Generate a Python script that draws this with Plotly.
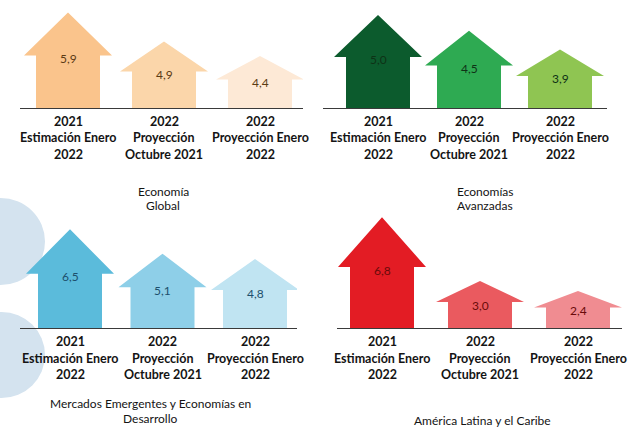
import plotly.graph_objects as go

# ---------------- data ----------------
cat_lines = [
    ["2021", "Estimación Enero", "2022"],
    ["2022", "Proyección", "Octubre 2021"],
    ["2022", "Proyección Enero", "2022"],
]
global_vals = [5.9, 4.9, 4.4]
avanzadas_vals = [5.0, 4.5, 3.9]
emergentes_vals = [6.5, 5.1, 4.8]
latam_vals = [6.8, 3.0, 2.4]

global_title = ["Economía", "Global"]
avanzadas_title = ["Economías", "Avanzadas"]
emergentes_title = ["Mercados Emergentes y Economías en", "Desarrollo"]
latam_title = ["América Latina y el Caribe"]

# ---------------- layout / style ----------------
W, H = 641, 433
FONT = "Lato"

panels = [
    dict(vals=global_vals, title=global_title,
         L=20, R=303, c0=68, c2=260, yb=108, v0=2.61, ppu=29.0,
         colors=["#fac48c", "#fbd6aa", "#fde9d6"], tcolor="#5b3b14",
         tx=163, ty=[192, 205]),
    dict(vals=avanzadas_vals, title=avanzadas_title,
         L=323, R=607, c0=378, c2=560, yb=108, v0=2.04, ppu=31.4,
         colors=["#0c5b2d", "#2eaa52", "#8fc552"], tcolor="#0e3216",
         tx=485, ty=[192, 205]),
    dict(vals=emergentes_vals, title=emergentes_title,
         L=20, R=297, c0=70, c2=255, yb=328, v0=0.83, ppu=17.4,
         colors=["#5bbbdb", "#8ecfe8", "#c0e4f2"], tcolor="#1d4f6d",
         tx=150, ty=[403, 418]),
    dict(vals=latam_vals, title=latam_title,
         L=337, R=622, c0=382, c2=578, yb=328, v0=0.19, ppu=16.77,
         colors=["#e31c24", "#ea5a5f", "#f08c91"], tcolor="#6a0a0a",
         tx=482, ty=[420]),
]

HEAD_HALF_PX = 44
BODY_HALF_PX = 32
HEAD_FRAC = 0.45
DOMAIN_PX = 116

fig = go.Figure()
annotations = []
layout_axes = {}

for k, p in enumerate(panels, start=1):
    s = (p["c2"] - p["c0"]) / 2.0  # px per category unit
    xa = -(p["c0"] - p["L"]) / s
    xb = 2 + (p["R"] - p["c2"]) / s
    top_px = max(p["yb"] - DOMAIN_PX, 0)
    dom_px = p["yb"] - top_px
    ya = p["v0"]
    yb_val = p["v0"] + dom_px / p["ppu"]
    xn = "x" if k == 1 else f"x{k}"
    yn = "y" if k == 1 else f"y{k}"
    xkey = "xaxis" if k == 1 else f"xaxis{k}"
    ykey = "yaxis" if k == 1 else f"yaxis{k}"
    layout_axes[xkey] = dict(domain=[p["L"] / W, p["R"] / W], range=[xa, xb],
                             showgrid=False, zeroline=False, showticklabels=False,
                             ticks="", showline=True, linecolor="#3a3a3a",
                             linewidth=1, layer="below traces", anchor=yn,
                             fixedrange=True)
    layout_axes[ykey] = dict(domain=[1 - p["yb"] / H, 1 - top_px / H],
                             range=[ya, yb_val], showgrid=False, zeroline=False,
                             showticklabels=False, ticks="", showline=False,
                             anchor=xn, fixedrange=True)
    hw = HEAD_HALF_PX / s
    bw = BODY_HALF_PX / s
    base = p["v0"]
    for i, v in enumerate(p["vals"]):
        sh = v - HEAD_FRAC * (v - base)
        xs = [i - bw, i - bw, i - hw, i, i + hw, i + bw, i + bw, i - bw]
        ys = [base, sh, sh, v, sh, sh, base, base]
        fig.add_trace(go.Scatter(x=xs, y=ys, xaxis=xn, yaxis=yn, mode="lines",
                                 fill="toself", fillcolor=p["colors"][i],
                                 line=dict(width=0, color=p["colors"][i]),
                                 hoverinfo="skip", showlegend=False))
        annotations.append(dict(x=i, y=sh, xref=xn, yref=yn,
                                text=f"{v:.1f}".replace(".", ","),
                                showarrow=False, yshift=-3,
                                font=dict(family=FONT, size=12, color=p["tcolor"])))
        for j, line in enumerate(cat_lines[i]):
            off = [13.5, 30, 46.5][j]
            annotations.append(dict(x=i, y=1 - (p["yb"] + off) / H, xref=xn,
                                    yref="paper", text=f"<b>{line}</b>",
                                    showarrow=False, yanchor="middle",
                                    font=dict(family=FONT, size=12.5, color="#141414")))
    for j, line in enumerate(p["title"]):
        annotations.append(dict(x=p["tx"] / W, y=1 - p["ty"][j] / H, xref="paper",
                                yref="paper", text=line, showarrow=False,
                                yanchor="middle", xanchor="center",
                                font=dict(family=FONT, size=12, color="#141414")))

shapes = [
    dict(type="circle", xref="paper", yref="paper", layer="below",
         x0=-44 / W, x1=45 / W, y0=1 - 285 / H, y1=1 - 198 / H,
         fillcolor="#d4e3ef", line=dict(width=0)),
    dict(type="circle", xref="paper", yref="paper", layer="below",
         x0=-42 / W, x1=45 / W, y0=1 - 398 / H, y1=1 - 312 / H,
         fillcolor="#d4e3ef", line=dict(width=0)),
]

fig.update_layout(width=W, height=H, margin=dict(l=0, r=0, t=0, b=0),
                  paper_bgcolor="white", plot_bgcolor="rgba(0,0,0,0)",
                  annotations=annotations, shapes=shapes, showlegend=False,
                  **layout_axes)

fig.write_html("out.html", config={"displayModeBar": False})
